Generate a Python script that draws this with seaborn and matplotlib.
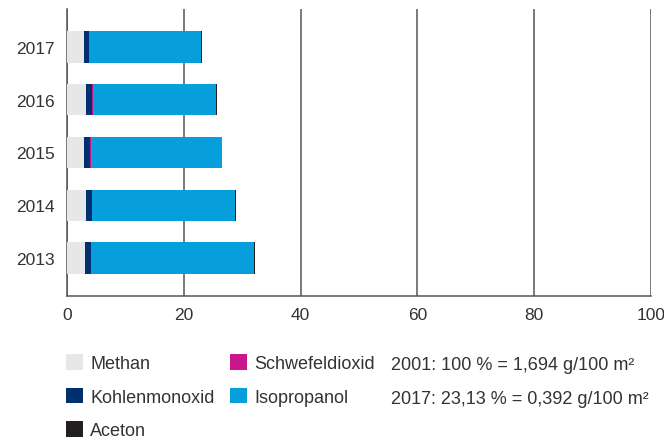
import numpy as np
import pandas as pd
import matplotlib.pyplot as plt
import matplotlib.patches as mpatches
import seaborn as sns

# data, share of 2001 level in %
years = ['2017', '2016', '2015', '2014', '2013']
methan = [2.9, 3.25, 2.9, 3.25, 3.1]
kohlenmonoxid = [0.85, 1.0, 1.0, 1.0, 1.0]
schwefeldioxid = [0.0, 0.2, 0.2, 0.0, 0.0]
isopropanol = [19.2, 21.0, 22.4, 24.5, 27.9]
aceton = [0.18, 0.2, 0.0, 0.2, 0.2]

series_names = ['Methan', 'Kohlenmonoxid', 'Schwefeldioxid', 'Isopropanol', 'Aceton']
colors = {
    'Methan': '#e6e7e8',
    'Kohlenmonoxid': '#00306e',
    'Schwefeldioxid': '#c8168c',
    'Isopropanol': '#069fdb',
    'Aceton': '#231f20',
}
note_lines = ['2001: 100 % = 1,694 g/100 m²', '2017: 23,13 % = 0,392 g/100 m²']

df = pd.DataFrame({'Jahr': years, 'Methan': methan, 'Kohlenmonoxid': kohlenmonoxid,
                   'Schwefeldioxid': schwefeldioxid, 'Isopropanol': isopropanol,
                   'Aceton': aceton})
# cumulative ends for stacking
cum = df[series_names].cumsum(axis=1)
cum['Jahr'] = df['Jahr']

sns.set_style('white')
plt.rcParams['font.family'] = ['Liberation Sans', 'DejaVu Sans']
text_col = '#333333'
line_col = '#555555'

fig = plt.figure(figsize=(6.64, 4.39), dpi=100)
ax = fig.add_axes([67 / 664, 1 - 297 / 439, (651 - 67) / 664, (297 - 10) / 439])

# draw from the outermost layer inwards
for name in reversed(series_names):
    sns.barplot(data=cum, x=name, y='Jahr', order=years, orient='h',
                color=colors[name], saturation=1, width=0.59,
                linewidth=0, edgecolor='none', ax=ax, zorder=3)

ax.set_xlim(0, 100)
ax.set_ylim(4.72, -0.72)
ax.set_xticks([0, 20, 40, 60, 80, 100])
ax.xaxis.grid(True, color=line_col, linewidth=1.1, zorder=0)
ax.set_axisbelow(True)
ax.tick_params(axis='both', length=0, labelsize=12.5, colors=text_col)
ax.tick_params(axis='x', pad=8)
ax.tick_params(axis='y', pad=8.5)
ax.set_xlabel('')
ax.set_ylabel('')
for side in ['top', 'right']:
    ax.spines[side].set_visible(False)
for side in ['left', 'bottom']:
    ax.spines[side].set_color(line_col)
    ax.spines[side].set_linewidth(1.1)

legend_order = ['Methan', 'Kohlenmonoxid', 'Aceton', 'Schwefeldioxid', 'Isopropanol']
handles = [mpatches.Patch(facecolor=colors[n], edgecolor='none', label=n) for n in legend_order]
leg = fig.legend(handles=handles, loc='upper left', bbox_to_anchor=(66 / 664, 1 - 355 / 439),
                 ncol=2, frameon=False, fontsize=13, handlelength=0.95, handleheight=0.95,
                 handletextpad=0.4, columnspacing=0.85, labelspacing=0.87, borderpad=0,
                 borderaxespad=0)
for t in leg.get_texts():
    t.set_color(text_col)

for i, line in enumerate(note_lines):
    fig.text(391 / 664, 1 - (366 + 34 * i) / 439, line, fontsize=13, color=text_col,
             ha='left', va='center')

fig.savefig('out.png', dpi=100)
